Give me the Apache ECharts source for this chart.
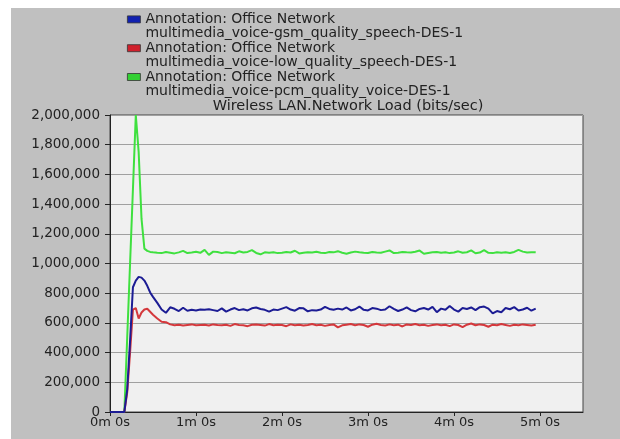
<!DOCTYPE html>
<html>
<head>
<meta charset="utf-8">
<script src="https://cdn.jsdelivr.net/npm/echarts@6/dist/echarts.min.js"></script>
<style>
  html, body { margin: 0; padding: 0; background: #ffffff; }
  #chart { position: absolute; left: 11px; top: 8px; width: 609px; height: 431px; }
</style>
</head>
<body>
<div id="chart"></div>
<script>
// time in seconds
const times = [0, 10, 12, 14, 16, 18, 20, 22, 24, 26, 28, 30,
  33, 36, 39, 42, 45, 48, 51, 54, 57, 60,
  63, 66, 69, 72, 75, 78, 81, 84, 87, 90,
  93, 96, 99, 102, 105, 108, 111, 114, 117, 120,
  123, 126, 129, 132, 135, 138, 141, 144, 147, 150,
  153, 156, 159, 162, 165, 168, 171, 174, 177, 180,
  183, 186, 189, 192, 195, 198, 201, 204, 207, 210,
  213, 216, 219, 222, 225, 228, 231, 234, 237, 240,
  243, 246, 249, 252, 255, 258, 261, 264, 267, 270,
  273, 276, 279, 282, 285, 288, 291, 294, 297];

const gsmValues = [0, 0, 150000, 480000, 840000, 885000, 910000, 905000, 885000, 850000, 805000, 775000,
  735000, 690000, 668000, 705000, 695000, 680000, 702000, 682000, 688000, 684000,
  690000, 688000, 692000, 686000, 680000, 698000, 676000, 690000, 700000, 686000,
  692000, 684000, 698000, 704000, 694000, 688000, 676000, 690000, 686000, 696000,
  706000, 690000, 682000, 700000, 698000, 678000, 686000, 684000, 690000, 708000,
  694000, 688000, 696000, 690000, 704000, 684000, 692000, 710000, 688000, 684000,
  700000, 696000, 686000, 690000, 712000, 694000, 680000, 690000, 704000, 686000,
  678000, 694000, 700000, 690000, 708000, 672000, 696000, 688000, 714000, 690000,
  676000, 700000, 694000, 704000, 686000, 706000, 710000, 696000, 664000, 680000,
  672000, 700000, 692000, 706000, 684000, 690000, 702000, 682000, 696000];

const lowValues = [0, 0, 130000, 400000, 690000, 700000, 630000, 670000, 690000, 695000, 675000, 655000,
  630000, 608000, 605000, 590000, 584000, 588000, 582000, 586000, 590000, 584000,
  586000, 588000, 582000, 590000, 586000, 584000, 588000, 580000, 592000, 586000,
  584000, 578000, 588000, 590000, 586000, 582000, 592000, 584000, 588000, 586000,
  578000, 590000, 584000, 588000, 582000, 586000, 592000, 584000, 588000, 580000,
  586000, 590000, 570000, 584000, 588000, 592000, 584000, 590000, 586000, 574000,
  588000, 594000, 586000, 582000, 590000, 584000, 588000, 576000, 590000, 586000,
  592000, 584000, 588000, 580000, 586000, 590000, 584000, 588000, 578000, 590000,
  586000, 572000, 588000, 596000, 584000, 590000, 586000, 574000, 588000, 584000,
  592000, 586000, 580000, 588000, 584000, 590000, 586000, 582000, 588000];

const pcmValues = [0, 0, 500000, 1000000, 1500000, 2000000, 1750000, 1300000, 1100000, 1085000, 1078000, 1075000,
  1072000, 1070000, 1078000, 1073000, 1068000, 1075000, 1085000, 1070000, 1074000, 1079000,
  1072000, 1092000, 1058000, 1080000, 1077000, 1070000, 1076000, 1073000, 1069000, 1082000,
  1074000, 1078000, 1090000, 1071000, 1062000, 1075000, 1073000, 1076000, 1070000, 1072000,
  1078000, 1074000, 1086000, 1068000, 1072000, 1076000, 1074000, 1079000, 1073000, 1070000,
  1077000, 1075000, 1083000, 1072000, 1066000, 1074000, 1080000, 1076000, 1073000, 1071000,
  1078000, 1074000, 1072000, 1080000, 1088000, 1070000, 1073000, 1077000, 1075000, 1074000,
  1079000, 1087000, 1066000, 1071000, 1075000, 1078000, 1073000, 1076000, 1070000, 1074000,
  1082000, 1072000, 1076000, 1088000, 1069000, 1074000, 1090000, 1072000, 1070000, 1076000,
  1073000, 1075000, 1071000, 1078000, 1092000, 1080000, 1074000, 1076000, 1075000];

const seriesNames = [
  'Annotation: Office Network\nmultimedia_voice-gsm_quality_speech-DES-1',
  'Annotation: Office Network\nmultimedia_voice-low_quality_speech-DES-1',
  'Annotation: Office Network\nmultimedia_voice-pcm_quality_voice-DES-1'
];
const seriesColors = ['#1c1c94', '#d4383c', '#3fe03f'];
const legendColors = ['#1020b0', '#d0202c', '#33d033'];

const xTickValues = [0, 60, 120, 180, 240, 300];
const xTickLabels = ['0m 0s', '1m 0s', '2m 0s', '3m 0s', '4m 0s', '5m 0s'];
const chartTitle = 'Wireless LAN.Network Load (bits/sec)';

const FONT = 'DejaVu Sans';

function pairs(vals) { return times.map((t, i) => [t, vals[i]]); }

const chart = echarts.init(document.getElementById('chart'), null, { renderer: 'canvas' });
chart.setOption({
  animation: false,
  backgroundColor: '#c0c0c0',
  title: {
    text: chartTitle,
    left: 337,
    top: 91,
    padding: 0,
    textAlign: 'center',
    textStyle: { fontFamily: FONT, fontSize: 14.5, fontWeight: 'normal', color: '#222' }
  },
  legend: {
    orient: 'vertical',
    left: 116,
    top: 4,
    padding: 0,
    itemGap: 0,
    itemWidth: 13,
    itemHeight: 28,
    icon: 'path://M0,0 L0,0 M0,3.5 L13,3.5 L13,10.5 L0,10.5 Z M13,28 L13,28',
    selectedMode: false,
    textStyle: { fontFamily: FONT, fontSize: 14, lineHeight: 14, color: '#222' },
    data: seriesNames.map((n, i) => ({ name: n, itemStyle: { color: legendColors[i], borderColor: '#333', borderWidth: 0.8 } }))
  },
  grid: {
    left: 99, top: 107, right: 37, bottom: 27,
    show: true, backgroundColor: '#f0f0f0', borderColor: '#444', borderWidth: 1
  },
  xAxis: {
    type: 'value',
    min: 0, max: 330, interval: 60,
    axisLine: { lineStyle: { color: '#222', width: 1 } },
    axisTick: { show: true, length: 4, lineStyle: { color: '#222' }, customValues: xTickValues },
    axisLabel: {
      customValues: xTickValues,
      margin: 4,
      fontFamily: FONT, fontSize: 13, color: '#222',
      formatter: v => xTickLabels[xTickValues.indexOf(v)] || ''
    },
    splitLine: { show: false }
  },
  yAxis: {
    type: 'value',
    min: 0, max: 2000000, interval: 200000,
    axisLine: { show: true, lineStyle: { color: '#222', width: 1 } },
    axisTick: { show: true, length: 5, lineStyle: { color: '#222' } },
    axisLabel: {
      margin: 10,
      fontFamily: FONT, fontSize: 13.5, color: '#222',
      formatter: v => v.toLocaleString('en-US')
    },
    splitLine: { show: true, lineStyle: { color: '#a0a0a0', width: 1 } }
  },
  series: [gsmValues, lowValues, pcmValues].map((vals, i) => ({
    type: 'line',
    name: seriesNames[i],
    data: pairs(vals),
    showSymbol: false,
    symbol: 'none',
    color: seriesColors[i],
    lineStyle: { width: 2, color: seriesColors[i] },
    z: 3 - i
  }))
});
</script>
</body>
</html>
